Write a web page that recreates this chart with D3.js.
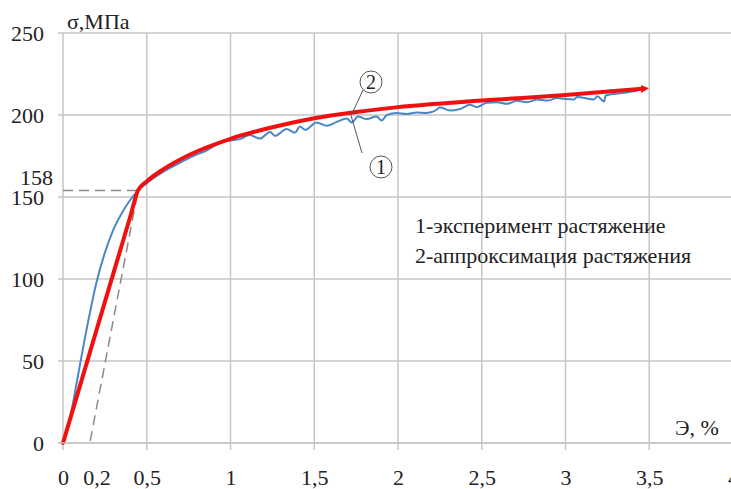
<!DOCTYPE html>
<html><head><meta charset="utf-8">
<script src="https://cdn.jsdelivr.net/npm/d3@7"></script>
<style>
html,body{margin:0;padding:0;background:#fff;}
svg{display:block;}
svg text{font-family:"Liberation Serif",serif !important;fill:#222;}
</style></head>
<body>
<svg id="chart" width="731" height="489"></svg>
<script>
// ---- data ----
const xGridValues = [0,0.5,1,1.5,2,2.5,3,3.5,4];
const xTickValues = [0,0.2,0.5,1,1.5,2,2.5,3,3.5,4];
const xTickLabels = ["0","0,2","0,5","1","1,5","2","2,5","3","3,5","4"];
const yTickValues = [0,50,100,150,200,250];
const yTickLabels = ["0","50","100","150","200","250"];
const yieldLabel = "158";
const yieldPoint = [0.448, 154];
const elasticOffsetX = 0.16;

// 1 – experiment (blue)
const expX = [0,0.04,0.07,0.10,0.15,0.2,0.25,0.3,0.35,0.4,0.45,0.5,0.6,0.7,0.8,0.85,0.9,0.937,
  1.0,1.057,1.116,1.176,1.236,1.266,1.335,1.385,1.415,1.445,1.514,1.574,1.634,1.694,1.724,1.761,1.813,1.872,1.903,1.933,1.992,2.052,2.112,2.171,2.231,
  2.25,2.31,2.37,2.43,2.47,2.53,2.59,2.65,2.71,2.77,2.83,2.89,2.95,2.99,3.05,3.07,3.17,3.19,3.23,3.24,3.3,3.38,3.43];
const expY = [0,14,30,47,74,98,116,130,140,148,154,158.5,165.5,171,176,178,181,183.2,
  184.5,185.3,187.8,185.6,189.7,187.3,191.4,189.3,193,191,195.4,193.4,195.8,197.9,195.4,199.1,197.5,199.1,196.6,200,201.2,200.6,201.6,201.2,203.2,
  204.8,202.7,203.7,206.2,204.8,207.4,207.8,206.8,208.7,207.8,209.5,208.8,210.3,209.9,209.5,210.9,209.5,211.5,208.2,211.9,213,214,215];

// 2 – approximation (red)
const apprX = [0,0.2,0.4,0.448,0.5,0.6,0.75,1.0,1.25,1.5,1.75,2.0,2.5,3.0,3.46];
const apprY = [0,68.8,137.5,154,159.5,167,175.5,185.5,192.5,198,201.8,204.8,208.8,212.2,216];

const legendLines = ["1-эксперимент растяжение","2-аппроксимация растяжения"];
const yAxisTitle = "σ,МПа";
const xAxisTitle = "Э, %";

// ---- drawing ----
const FONT = "'Liberation Serif', serif";
const svg = d3.select("#chart");
const x = d3.scaleLinear().domain([0,4]).range([63,733]);
const y = d3.scaleLinear().domain([0,250]).range([443,33]);
const gridColor = "#c6c6c6";

// horizontal grid
svg.append("g").selectAll("line").data(yTickValues).join("line")
  .attr("x1", x(0)-5).attr("x2", 731)
  .attr("y1", d=>y(d)).attr("y2", d=>y(d))
  .attr("stroke", gridColor).attr("stroke-width", 1.5);
// vertical grid
svg.append("g").selectAll("line").data(xGridValues).join("line")
  .attr("x1", d=>x(d)).attr("x2", d=>x(d))
  .attr("y1", y(250)).attr("y2", y(0)+7)
  .attr("stroke", gridColor).attr("stroke-width", 1.5);

// x axis labels
const xAxis = d3.axisBottom(x).tickValues(xTickValues)
  .tickFormat((d,i)=>xTickLabels[i]).tickSize(0).tickPadding(0);
const gx = svg.append("g").attr("transform",`translate(0,${y(0)})`).call(xAxis);
gx.attr("font-family",null).attr("font-size",null);
gx.select(".domain").remove();
gx.selectAll("text").style("font-family",FONT).style("font-size","22px")
  .attr("fill","#222").attr("dy",null).attr("y",42);

// y axis labels
const yAxis = d3.axisLeft(y).tickValues(yTickValues)
  .tickFormat((d,i)=>yTickLabels[i]).tickSize(0).tickPadding(0);
const gy = svg.append("g").attr("transform",`translate(44,0)`).call(yAxis);
gy.attr("font-family",null).attr("font-size",null);
gy.select(".domain").remove();
gy.selectAll("text").style("font-family",FONT).style("font-size","22px")
  .attr("fill","#222").attr("dy","0.35em");

// yield label
svg.append("text").attr("x",53).attr("y",y(162)).attr("dy","0.35em")
  .attr("text-anchor","end").style("font-family",FONT).style("font-size","22px").text(yieldLabel);

// axis titles
svg.append("text").attr("x",67).attr("y",29).style("font-family",FONT).style("font-size","22px").text(yAxisTitle);
svg.append("text").attr("x",675).attr("y",435).style("font-family",FONT).style("font-size","22px").text(xAxisTitle);

// dashed construction lines
svg.append("path")
  .attr("d", d3.line()([[x(0),y(yieldPoint[1])],[x(yieldPoint[0]),y(yieldPoint[1])],[x(elasticOffsetX),y(0)]]))
  .attr("fill","none").attr("stroke","#8a8a8a").attr("stroke-width",1.5)
  .attr("stroke-dasharray","10,6");

// experiment curve
const expData = expX.map((v,i)=>[v,expY[i]]);
svg.append("path").datum(expData)
  .attr("d", d3.line().x(d=>x(d[0])).y(d=>y(d[1])).curve(d3.curveMonotoneX))
  .attr("fill","none").attr("stroke","#4a86c8").attr("stroke-width",2);

// approximation curve with arrow end
svg.append("defs").append("marker").attr("id","arr")
  .attr("viewBox","0 0 10 10").attr("refX",2).attr("refY",5)
  .attr("markerWidth",2).attr("markerHeight",2).attr("orient","auto")
  .append("path").attr("d","M0,0L10,5L0,10z").attr("fill","#f01010");
const apprData = apprX.map((v,i)=>[v,apprY[i]]);
svg.append("path").datum(apprData)
  .attr("d", d3.line().x(d=>x(d[0])).y(d=>y(d[1])).curve(d3.curveMonotoneX))
  .attr("fill","none").attr("stroke","#f01010").attr("stroke-width",4)
  .attr("stroke-linecap","round").attr("marker-end","url(#arr)");

// x axis line
svg.append("line").attr("x1",x(0)-5).attr("x2",731).attr("y1",y(0)).attr("y2",y(0))
  .attr("stroke",gridColor).attr("stroke-width",1.5);

// callouts
const jx = x(1.72), jy = y(199.5);
const c2 = [371,82], c1 = [381,167];
svg.append("path").attr("d", d3.line()([[c2[0]-8,c2[1]+8],[jx,jy],[c1[0]-19,c1[1]-14]]))
  .attr("fill","none").attr("stroke","#555").attr("stroke-width",1);
[[c2,"2"],[c1,"1"]].forEach(([c,t])=>{
  svg.append("circle").attr("cx",c[0]).attr("cy",c[1]).attr("r",11)
    .attr("fill","#fff").attr("stroke","#555").attr("stroke-width",1);
  svg.append("text").attr("x",c[0]).attr("y",c[1]).attr("dy","0.35em")
    .attr("text-anchor","middle").style("font-family",FONT).style("font-size","20px").text(t);
});

// legend
svg.append("g").selectAll("text").data(legendLines).join("text")
  .attr("x",415).attr("y",(d,i)=>233+i*30).style("font-family",FONT).style("font-size","22px").text(d=>d);
</script>
</body></html>
